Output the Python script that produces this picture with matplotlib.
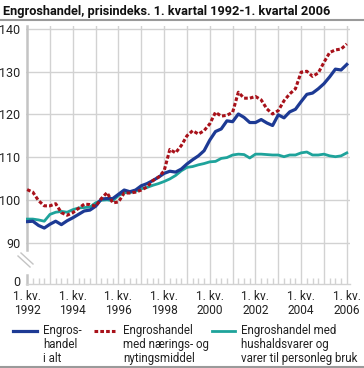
import matplotlib
matplotlib.use('Agg')
import matplotlib.pyplot as plt
from matplotlib.lines import Line2D
import numpy as np

plt.rcParams['font.family'] = ['Roboto', 'DejaVu Sans']

# quarterly index, 1. kv. 1992 - 1. kv. 2006
engros_i_alt = [94.9, 95.0, 94.0, 93.4, 94.3, 95.0, 94.2, 95.1, 95.8, 96.6, 97.4, 97.6,
                98.5, 100.2, 100.3, 100.3, 101.3, 102.3, 101.9, 102.3, 103.3, 103.8, 104.5, 105.3,
                106.2, 106.7, 106.5, 107.2, 108.4, 109.4, 110.3, 111.5, 114.0, 116.0, 116.6, 118.5,
                118.3, 120.1, 119.3, 118.1, 118.1, 118.8, 118.0, 117.4, 119.9, 119.2, 120.6, 121.2,
                123.0, 124.7, 125.0, 126.0, 127.2, 128.8, 130.6, 130.4, 131.7]
naerings = [102.4, 101.8, 99.8, 98.6, 98.6, 99.1, 97.0, 96.4, 97.0, 98.0, 99.0, 98.9,
            98.5, 100.3, 101.7, 99.3, 99.5, 101.6, 101.6, 101.8, 102.3, 103.0, 104.5, 105.3,
            106.8, 111.8, 111.0, 112.7, 115.0, 116.2, 115.4, 116.2, 117.8, 120.5, 119.6, 119.8,
            120.5, 125.2, 123.8, 123.8, 124.2, 123.4, 121.3, 120.1, 120.9, 123.2, 124.8, 126.0,
            129.9, 130.1, 128.9, 129.7, 132.2, 134.5, 135.1, 135.3, 136.5]
hushald = [95.5, 95.5, 95.3, 95.0, 96.6, 97.1, 97.3, 97.1, 97.7, 98.1, 98.2, 98.3,
           99.3, 99.9, 100.0, 99.8, 101.0, 101.7, 101.7, 102.0, 102.6, 102.9, 103.4, 103.8,
           104.3, 104.9, 105.7, 106.8, 107.6, 107.8, 108.2, 108.5, 108.9, 109.0, 109.7, 109.9,
           110.5, 110.7, 110.6, 109.8, 110.7, 110.7, 110.6, 110.5, 110.5, 110.1, 110.5, 110.5,
           111.0, 111.2, 110.5, 110.5, 110.7, 110.3, 110.1, 110.3, 111.0]

labels = ['Engros-\nhandel\ni alt',
          'Engroshandel\nmed nærings- og\nnytingsmiddel',
          'Engroshandel med\nhushaldsvarer og\nvarer til personleg bruk']
title = 'Engroshandel, prisindeks. 1. kvartal 1992-1. kvartal 2006'
year_ticks = list(range(1992, 2007))
ytick_vals = [90, 100, 110, 120, 130, 140]

blue = '#1d3a94'
red = '#a8111a'
teal = '#1ea39b'
grid_c = '#d2d2d2'

W, H = 364, 368
fig = plt.figure(figsize=(W / 100, H / 100), dpi=100)
ax = fig.add_axes([26 / W, 1 - 284 / H, (350 - 26) / W, (284 - 26) / H])

x = 1992 + np.arange(len(engros_i_alt)) / 4.0
y_bottom = 80.3

ax.plot(x, hushald, color=teal, lw=2.0, solid_joinstyle='round', zorder=3)
ax.plot(x, engros_i_alt, color=blue, lw=2.3, solid_joinstyle='round', zorder=4)
ax.plot(x, naerings, color=red, lw=2.2, dashes=(1.2, 0.7), zorder=5)

ax.set_xlim(1991.95, 2006.14)
ax.set_ylim(y_bottom, 140.7)

# grid: horizontal from 90 up, vertical at every year
for v in ytick_vals:
    ax.axhline(v, color=grid_c, lw=1.0, zorder=1)
for yr in year_ticks[1:]:
    ax.axvline(yr, color=grid_c, lw=1.0, zorder=1)

for s in ['top', 'right', 'left']:
    ax.spines[s].set_visible(False)
ax.spines['bottom'].set_color(grid_c)
ax.spines['bottom'].set_linewidth(1.0)

# broken left axis
ax.plot([1992, 1992], [88.2, 140.7], color='#c4c4c4', lw=1.8, clip_on=False, zorder=2)
ax.plot([1992, 1992], [y_bottom, 82.3], color='#c4c4c4', lw=1.8, clip_on=False, zorder=2)
for dx in (0, 3):
    fig.add_artist(Line2D([(18 + dx) / W, (30 + dx) / W],
                          [1 - (256 - dx) / H, 1 - (267 - dx) / H],
                          color='#c4c4c4', lw=1.0))

ax.set_yticks([80.9] + ytick_vals)
ax.set_yticklabels(['0'] + [str(v) for v in ytick_vals])
ax.tick_params(axis='y', length=0, pad=4, labelsize=9, labelcolor='#222222')

ax.set_xticks(year_ticks)
ax.set_xticklabels(['1. kv.\n%d' % yr if yr % 2 == 0 else '' for yr in year_ticks])
ax.set_xticks(np.arange(1992, 2006.01, 0.25), minor=True)
ax.tick_params(axis='x', which='major', length=0, pad=4, labelsize=8.6, labelcolor='#222222')
ax.tick_params(axis='x', which='minor', direction='in', length=4, color=grid_c, width=1.0)
for t in ax.get_xticklabels():
    t.set_linespacing(1.1)

# title and rules
fig.text(3 / W, 1 - 11 / H, title, fontsize=9.2, fontweight='bold', va='center', ha='left', color='#111111')
fig.add_artist(Line2D([0, 1], [1 - 19.5 / H, 1 - 19.5 / H], color='#9a9a9a', lw=1.5))
fig.add_artist(Line2D([0, 1], [1 - 366.5 / H, 1 - 366.5 / H], color='#9a9a9a', lw=1.5))

# legend
entries = [(13, 37, 43, blue, None, 2.3),
           (94, 115, 123, red, (1.2, 0.7), 2.2),
           (212, 235, 241, teal, None, 2.0)]
for (x0, x1, xt, c, d, lw), lab in zip(entries, labels):
    ln = Line2D([x0 / W, x1 / W], [1 - 330.5 / H, 1 - 330.5 / H], color=c, lw=lw)
    if d:
        ln.set_dashes(d)
    fig.add_artist(ln)
    fig.text(xt / W, 1 - 324 / H, lab, fontsize=8.3, va='top', ha='left',
             linespacing=1.12, color='#222222')

fig.savefig('out.png', dpi=100)
